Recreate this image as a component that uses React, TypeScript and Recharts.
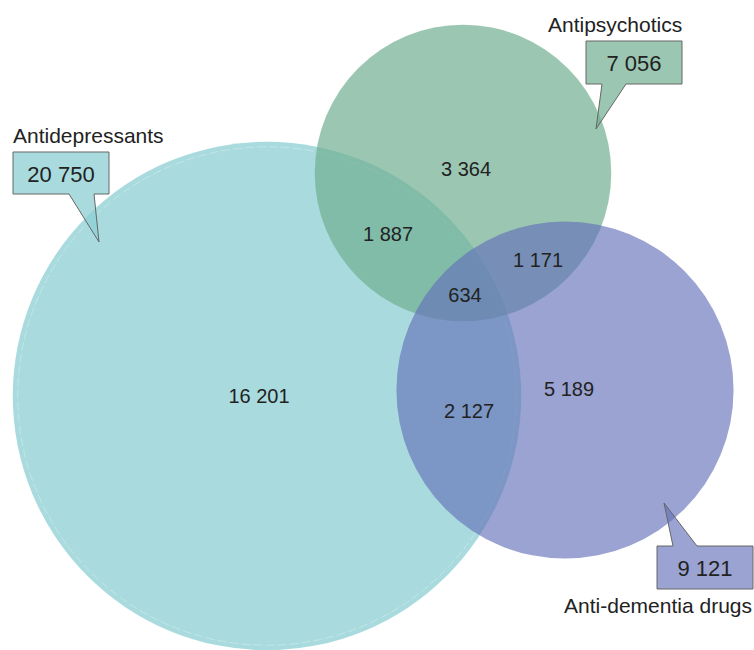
import React from 'react';
import { ScatterChart, Scatter, XAxis, YAxis, Cell } from 'recharts';

// ---- data ----
const setNames = ['Antidepressants', 'Antipsychotics', 'Anti-dementia drugs'];
const setTotals = [20750, 7056, 9121];
const setCenterX = [267, 463, 565];
const setCenterY = [396, 173, 390];

const regionCounts = [16201, 3364, 5189, 1887, 1171, 2127, 634];
const regionX = [259, 466, 569, 388, 538, 469, 465];
const regionY = [396, 169, 389, 234, 260, 411, 295];

// ---- layout / style ----
const W = 754;
const H = 650;
const PX_PER_SQRT = 1.765; // area-proportional circles
const FONT = '"Liberation Sans", Arial, Helvetica, sans-serif';
const setColors = ['#8ccfd3', '#71af91', '#6472b9'];
const setOpacity = [0.75, 0.7, 0.65];

const calloutLayout = [
  { tipX: 99, tipY: 242, L: 13, T: 152, R: 109, B: 194, b1: 69, b2: 94, down: true, tx: 13, ty: 143, anchor: 'start' },
  { tipX: 596, tipY: 129, L: 586, T: 41, R: 682, B: 84, b1: 602, b2: 626, down: true, tx: 548, ty: 32, anchor: 'start' },
  { tipX: 664, tipY: 503, L: 657, T: 546, R: 753, B: 589, b1: 673, b2: 697, down: false, tx: 752, ty: 613, anchor: 'end' },
];

const fmt = (n: number) => n.toString().replace(/\B(?=(\d{3})+(?!\d))/g, ' ');

const circleData = setNames.map((name, i) => ({
  name,
  x: setCenterX[i],
  y: setCenterY[i],
  total: setTotals[i],
  idx: i,
}));

const regionData = regionCounts.map((c, i) => ({ x: regionX[i], y: regionY[i], count: c }));

const calloutData = setNames.map((name, i) => ({
  name,
  x: calloutLayout[i].tipX,
  y: calloutLayout[i].tipY,
  total: setTotals[i],
  idx: i,
}));

const CircleShape = (props: any) => {
  const { cx, cy, payload } = props;
  const r = PX_PER_SQRT * Math.sqrt(payload.total);
  const i = payload.idx;
  return (
    <g>
      <circle cx={cx} cy={cy} r={r} fill={setColors[i]} fillOpacity={setOpacity[i]} />
      {i === 0 && (
        <circle
          cx={cx}
          cy={cy}
          r={r - 5}
          fill="none"
          stroke="#ffffff"
          strokeOpacity={0.35}
          strokeWidth={0.8}
          strokeDasharray="9 3"
        />
      )}
    </g>
  );
};

const RegionLabel = (props: any) => {
  const { cx, cy, payload } = props;
  return (
    <text
      x={cx}
      y={cy}
      textAnchor="middle"
      dominantBaseline="central"
      fontFamily={FONT}
      fontSize={20}
      fill="#222"
    >
      {fmt(payload.count)}
    </text>
  );
};

const CalloutShape = (props: any) => {
  const { cx, cy, payload } = props;
  const i = payload.idx;
  const c = calloutLayout[i];
  const dx = cx - c.tipX;
  const dy = cy - c.tipY;
  const L = c.L + dx, R = c.R + dx, T = c.T + dy, B = c.B + dy;
  const b1 = c.b1 + dx, b2 = c.b2 + dx;
  const pts = c.down
    ? [[L, T], [R, T], [R, B], [b2, B], [cx, cy], [b1, B], [L, B]]
    : [[L, T], [b1, T], [cx, cy], [b2, T], [R, T], [R, B], [L, B]];
  return (
    <g>
      <polygon
        points={pts.map((p) => p.join(',')).join(' ')}
        fill={setColors[i]}
        fillOpacity={setOpacity[i]}
        stroke="#666"
        strokeWidth={1}
      />
      <text
        x={(L + R) / 2}
        y={(T + B) / 2 + 1}
        textAnchor="middle"
        dominantBaseline="central"
        fontFamily={FONT}
        fontSize={22}
        fill="#222"
      >
        {fmt(payload.total)}
      </text>
      <text
        x={c.tx + dx}
        y={c.ty + dy}
        textAnchor={c.anchor}
        fontFamily={FONT}
        fontSize={21}
        fill="#222"
      >
        {payload.name}
      </text>
    </g>
  );
};

export default function App() {
  return (
    <div style={{ position: 'absolute', left: 0, top: 0, width: W, height: H, background: '#fff' }}>
      <ScatterChart width={W} height={H} margin={{ top: 0, right: 0, bottom: 0, left: 0 }}>
        <XAxis type="number" dataKey="x" domain={[0, W]} hide allowDataOverflow />
        <YAxis type="number" dataKey="y" domain={[0, H]} reversed hide allowDataOverflow />
        <Scatter data={circleData} shape={CircleShape} isAnimationActive={false}>
          {circleData.map((d) => (
            <Cell key={d.name} fill={setColors[d.idx]} />
          ))}
        </Scatter>
        <Scatter data={calloutData} shape={CalloutShape} isAnimationActive={false} />
        <Scatter data={regionData} shape={RegionLabel} isAnimationActive={false} />
      </ScatterChart>
    </div>
  );
}
